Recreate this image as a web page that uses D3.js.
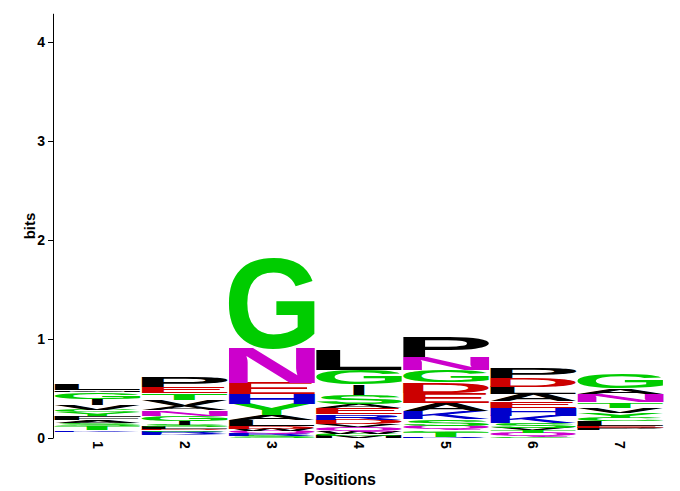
<!DOCTYPE html>
<html><head><meta charset="utf-8">
<script src="https://cdn.jsdelivr.net/npm/d3@7"></script>
<style>body{margin:0;background:#fff}</style>
</head><body>
<svg id="chart" width="680" height="491"></svg>
<script>
// ---- data (bottom -> top of each stack, heights in bits) ----
const positions = ["1","2","3","4","5","6","7"];
const yTicks = [0,1,2,3,4];
const pos1 = [["W",.009],["H",.009],["Q",.009],["E",.009],["D",.009],["N",.009],["R",.009],["K",.015],["T",.040],["S",.030],["A",.030],["F",.040],["Y",.040],["C",.025],["V",.050],["I",.065],["G",.070],["M",.015],["L",.060]];
const pos2 = [["W",.0075],["H",.0075],["M",.0075],["Q",.0075],["K",.015],["R",.020],["C",.015],["D",.015],["L",.020],["S",.020],["I",.040],["G",.050],["N",.055],["A",.040],["V",.065],["T",.065],["E",.065],["P",.106]];
const pos3 = [["S",.020],["R",.025],["Q",.030],["W",.020],["D",.025],["L",.065],["A",.050],["Y",.110],["H",.100],["E",.110],["N",.345],["G",.920]];
const pos4 = [["M",.020],["C",.020],["W",.025],["Q",.045],["V",.030],["D",.045],["R",.055],["E",.060],["A",.040],["S",.095],["I",.105],["G",.150],["L",.210]];
const pos5 = [["R",.015],["T",.050],["C",.015],["Q",.045],["S",.070],["K",.080],["A",.080],["E",.100],["D",.105],["G",.125],["N",.135],["P",.210]];
const pos6 = [["C",.015],["Q",.040],["T",.025],["V",.025],["S",.045],["K",.075],["H",.080],["E",.065],["A",.075],["L",.070],["D",.090],["P",.105]];
const pos7 = [["W",.0085],["H",.0085],["M",.0085],["K",.0085],["R",.0085],["D",.0085],["Q",.0085],["I",.0085],["F",.0085],["P",.020],["E",.025],["L",.045],["C",.040],["Y",.045],["V",.050],["T",.055],["S",.010],["N",.080],["A",.055],["G",.145]];
const columns = [pos1,pos2,pos3,pos4,pos5,pos6,pos7];

const colorGroups = {
  "#00CC00": ["G","S","T","Y","C"],
  "#CC00CC": ["N","Q"],
  "#0000CC": ["K","R","H"],
  "#CC0000": ["D","E"],
  "#000000": ["A","V","L","I","P","W","F","M"]
};
const letterColor = {};
Object.entries(colorGroups).forEach(([c, ls]) => ls.forEach(l => letterColor[l] = c));

// ---- layout ----
const svg = d3.select("#chart");
const FONT = '"Liberation Sans", Arial, Helvetica, sans-serif';
const yMax = 4.29;
const y = d3.scaleLinear().domain([0, yMax]).range([438, 438 - yMax * 99]);
const x = d3.scaleBand().domain(positions).range([54.5, 663.5]).paddingInner(0.012);

// glyph ink metrics
const ctx = document.createElement("canvas").getContext("2d");
const FS = 200;
ctx.font = `bold ${FS}px ${FONT}`;
const metrics = {};
function ink(ch) {
  if (!metrics[ch]) {
    const m = ctx.measureText(ch);
    metrics[ch] = {l: m.actualBoundingBoxLeft, r: m.actualBoundingBoxRight,
                   a: m.actualBoundingBoxAscent, d: m.actualBoundingBoxDescent};
  }
  return metrics[ch];
}

const gLetters = svg.append("g");
columns.forEach((col, i) => {
  let cum = 0;
  const bx0 = x(positions[i]);
  const bw0 = x.bandwidth();
  col.forEach(([ch, h]) => {
    const top = y(cum + h), bottom = y(cum);
    cum += h;
    const bh = bottom - top;
    if (bh < 1) return;
    let bx = bx0, bw = bw0;
    if (ch === "I") { bw = bw0 * 0.13; bx = bx0 + (bw0 - bw) / 2; }
    const m = ink(ch);
    const sx = bw / (m.l + m.r), sy = bh / (m.a + m.d);
    gLetters.append("text")
      .attr("transform", `translate(${bx},${top}) scale(${sx},${sy}) translate(${m.l},${m.a})`)
      .attr("font-family", FONT).attr("font-weight", "bold").attr("font-size", FS)
      .attr("fill", letterColor[ch])
      .text(ch);
  });
});

// y axis
const yAxis = d3.axisLeft(y).tickValues(yTicks).tickSize(5).tickSizeOuter(0).tickPadding(3)
  .tickFormat(d3.format("d"));
const gy = svg.append("g").attr("transform", "translate(53,0)").call(yAxis);
gy.selectAll("text").attr("font-family", FONT).attr("font-weight", "bold").attr("font-size", 14).attr("fill", "#000");
gy.selectAll("line,path").attr("stroke", "#000").attr("stroke-width", 1);

// x tick labels (no axis line)
svg.append("g").selectAll("text").data(positions).join("text")
  .attr("transform", d => `translate(${x(d) + x.bandwidth() / 2 - 5},441) rotate(90)`)
  .attr("text-anchor", "start")
  .attr("font-family", FONT).attr("font-weight", "bold").attr("font-size", 14)
  .text(d => d);

svg.append("text").attr("transform", "translate(35,226) rotate(-90)")
  .attr("text-anchor", "middle").attr("font-family", FONT).attr("font-weight", "bold").attr("font-size", 15)
  .text("bits");
svg.append("text").attr("x", 340).attr("y", 485)
  .attr("text-anchor", "middle").attr("font-family", FONT).attr("font-weight", "bold").attr("font-size", 16)
  .text("Positions");
</script>
</body></html>
